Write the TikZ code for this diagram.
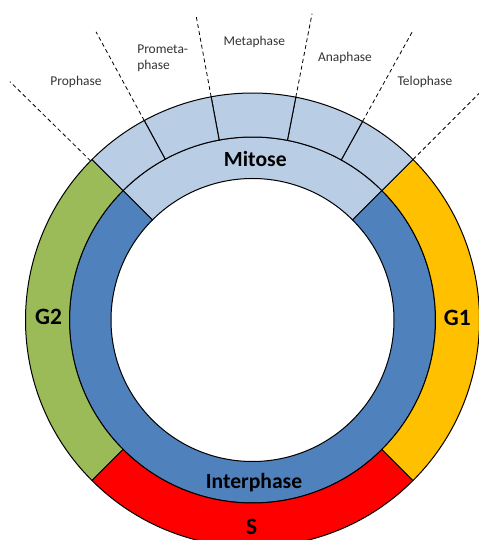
\documentclass[tikz,border=0pt]{standalone}
\usepackage{fontspec}
\setmainfont{Carlito}
\definecolor{mitlight}{HTML}{B9CDE5}
\definecolor{interblue}{HTML}{4F81BD}
\definecolor{gtwo}{HTML}{9BBB59}
\definecolor{gone}{HTML}{FFC000}
\definecolor{sred}{HTML}{FF0000}
% ring piece: colour, start angle, end angle, inner radius, outer radius
\newcommand{\ringpart}[5]{\filldraw[fill=#1] (#2:#5) arc[start angle=#2,end angle=#3,radius=#5]
  -- (#3:#4) arc[start angle=#3,end angle=#2,radius=#4] -- cycle;}

\begin{document}
\begin{tikzpicture}[x=1bp,y=1bp,line width=1bp]
\tikzstyle{phase} = [font=\fontsize{13.5}{16}\selectfont, text=black!80, inner sep=0pt]
\tikzstyle{stage} = [font=\bfseries\fontsize{21.7}{24}\selectfont, inner sep=0pt]
\tikzstyle{gap} = [font=\bfseries\fontsize{23.5}{26}\selectfont, inner sep=0pt]
\tikzstyle{cut} = [draw, dash pattern=on 4bp off 3bp, line width=0.8bp]
\useasboundingbox (-252.5,-220) rectangle (226.5,320);

% inner ring
\ringpart{mitlight}{45}{135}{141.5}{183}
\ringpart{interblue}{135}{405}{141.5}{183}
% outer ring
\ringpart{gtwo}{135}{225}{183}{227}
\ringpart{sred}{225}{315}{183}{227}
\ringpart{gone}{-45}{45}{183}{227}
% mitosis stages
\foreach \a/\b in {45/61,61/79,79/100.5,100.5/118.5,118.5/135}
  {\ringpart{mitlight}{\a}{\b}{183}{227}}

% dashed lines
\foreach \a/\r in {135.5/340,118.5/328,100.5/311,79/312,61/330,45/330}
  \draw[cut] (\a:227) -- (\a:\r);

% labels
\node[phase] (prophase) at (-176.5,238.3) {Prophase};
\node[phase, align=left] (prometa) at (-89.8,261.7) {Prometa-\\phase};
\node[phase] (metaphase) at (1.8,278.3) {Metaphase};
\node[phase] (anaphase) at (92.5,262.3) {Anaphase};
\node[phase] (telophase) at (172.5,238.3) {Telophase};

\node[stage] (mitose) at (2.8,160.7) {Mitose};
\node[stage] (interphase) at (1.5,-162.3) {Interphase};
\node[gap] (g2) at (-204,3.3) {G2};
\node[gap] (g1) at (204.8,1.7) {G1};
\node[gap] (s) at (-0.8,-206.7) {S};
\end{tikzpicture}
\end{document}
